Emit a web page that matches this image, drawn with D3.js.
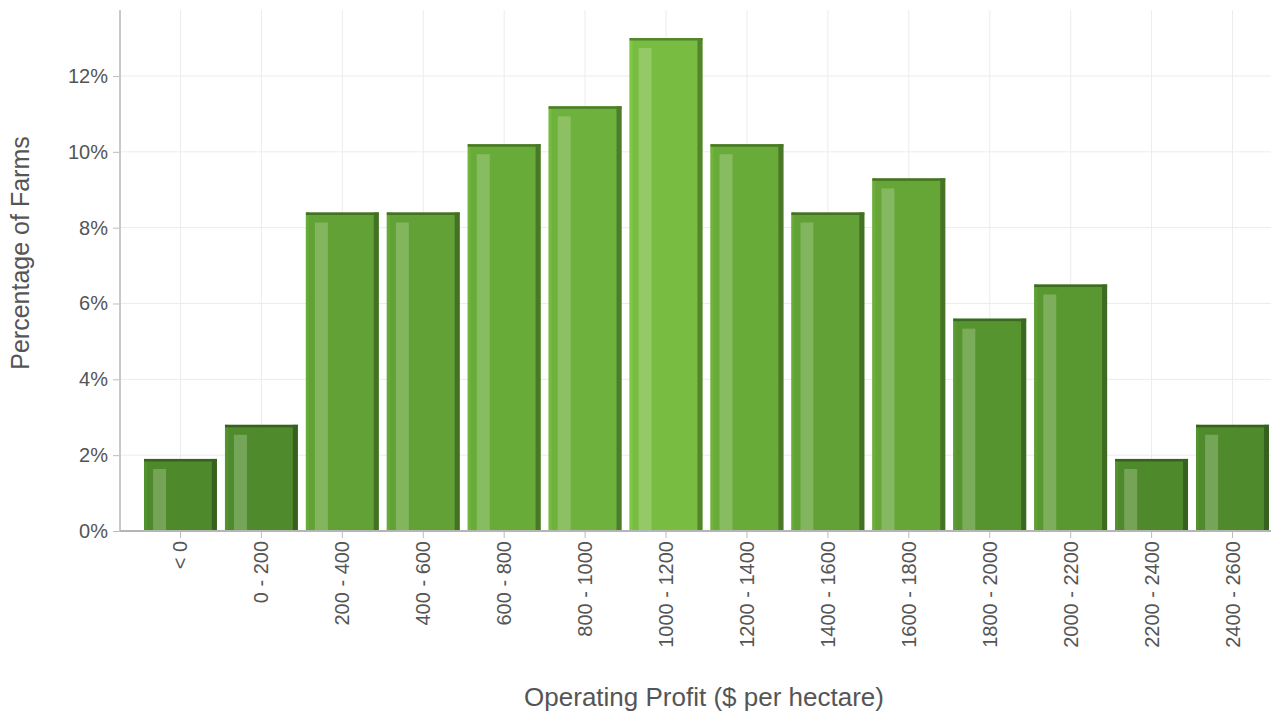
<!DOCTYPE html>
<html>
<head>
<meta charset="utf-8">
<script src="https://cdn.jsdelivr.net/npm/d3@7"></script>
<style>
  html, body { margin: 0; padding: 0; background: #fff; }
  svg { display: block; font-family: "Liberation Sans", Arial, sans-serif; }
</style>
</head>
<body>
<svg id="chart" width="1277" height="717"></svg>
<script>
const categories = ["< 0", "0 - 200", "200 - 400", "400 - 600", "600 - 800", "800 - 1000",
  "1000 - 1200", "1200 - 1400", "1400 - 1600", "1600 - 1800", "1800 - 2000",
  "2000 - 2200", "2200 - 2400", "2400 - 2600"];
const percentages = [1.9, 2.8, 8.4, 8.4, 10.2, 11.2, 13.0, 10.2, 8.4, 9.3, 5.6, 6.5, 1.9, 2.8];
const yTicks = [0, 2, 4, 6, 8, 10, 12];
const xTitle = "Operating Profit ($ per hectare)";
const yTitle = "Percentage of Farms";

const svg = d3.select("#chart");
const axisLeft = 120, plotRight = 1271, plotTop = 10, plotBottom = 531;

const x = d3.scaleBand().domain(categories).range([140, 1273]).paddingInner(0.1).paddingOuter(0.05);
const y = d3.scaleLinear().domain([0, 13.74]).range([plotBottom, plotTop]);

const minV = d3.min(percentages), maxV = d3.max(percentages);
const colorInterp = d3.interpolateRgb("#4e8a2b", "#78bd41");
const baseColor = v => colorInterp(Math.pow((v - minV) / (maxV - minV), 1.5));

// gridlines
const grid = svg.append("g");
grid.selectAll("line.h").data(yTicks).join("line")
  .attr("x1", axisLeft).attr("x2", plotRight)
  .attr("y1", d => y(d)).attr("y2", d => y(d))
  .attr("stroke", "#ececec").attr("stroke-width", 1);
grid.selectAll("line.v").data(categories).join("line")
  .attr("x1", d => x(d) + x.bandwidth() / 2).attr("x2", d => x(d) + x.bandwidth() / 2)
  .attr("y1", plotTop).attr("y2", plotBottom)
  .attr("stroke", "#ececec").attr("stroke-width", 1);

// bars
const bars = svg.append("g").selectAll("g").data(categories).join("g");
bars.each(function(cat, i) {
  const g = d3.select(this);
  const v = percentages[i];
  const bx = x(cat), bw = x.bandwidth();
  const by = y(v), bh = plotBottom - by;
  const c = d3.color(baseColor(v));
  g.append("rect").attr("x", bx).attr("y", by).attr("width", bw).attr("height", bh).attr("fill", c.formatHex());
  // light, slightly washed-out highlight stripe
  g.append("rect").attr("x", bx + 9).attr("y", by + 10).attr("width", 13).attr("height", Math.max(0, bh - 10))
    .attr("fill", d3.interpolateRgb(c.formatHex(), "#d8e8c8")(0.28));
  // subtle light left edge
  g.append("rect").attr("x", bx).attr("y", by).attr("width", 3).attr("height", bh)
    .attr("fill", c.brighter(0.15).formatHex());
  // dark right edge
  g.append("rect").attr("x", bx + bw - 5).attr("y", by).attr("width", 5).attr("height", bh)
    .attr("fill", c.darker(1.0).formatHex());
  // dark top edge
  g.append("rect").attr("x", bx).attr("y", by).attr("width", bw).attr("height", 2.5)
    .attr("fill", c.darker(1.0).formatHex());
});

// y axis
const yAxisG = svg.append("g").attr("transform", `translate(${axisLeft},0)`)
  .call(d3.axisLeft(y).tickValues(yTicks).tickFormat(d => d + "%").tickSize(7).tickPadding(5));
yAxisG.select(".domain").remove();
yAxisG.selectAll(".tick line").attr("stroke", "#bbb");
yAxisG.selectAll(".tick text").attr("fill", "#555").style("font-size", "20px")
  .style("font-family", "'Liberation Sans', Arial, sans-serif");
svg.append("line").attr("x1", axisLeft).attr("x2", axisLeft).attr("y1", plotTop).attr("y2", plotBottom + 1)
  .attr("stroke", "#c8c8c8").attr("stroke-width", 2);

// x axis
const xAxisG = svg.append("g").attr("transform", `translate(0,${plotBottom})`)
  .call(d3.axisBottom(x).tickSize(7).tickPadding(5));
xAxisG.select(".domain").remove();
xAxisG.selectAll(".tick line").attr("stroke", "#bbb");
xAxisG.selectAll(".tick text")
  .attr("fill", "#555").style("font-size", "20px")
  .style("font-family", "'Liberation Sans', Arial, sans-serif")
  .attr("text-anchor", "end").attr("dy", "0.35em")
  .attr("transform", "translate(0,10) rotate(-90)")
  .attr("x", 0).attr("y", 0);
svg.append("line").attr("x1", axisLeft).attr("x2", plotRight).attr("y1", plotBottom).attr("y2", plotBottom)
  .attr("stroke", "#b5b5b5").attr("stroke-width", 2);

// titles
svg.append("text").attr("x", 704).attr("y", 706).attr("text-anchor", "middle")
  .attr("fill", "#555").style("font-size", "26px").text(xTitle);
svg.append("text").attr("transform", "translate(29,253) rotate(-90)").attr("text-anchor", "middle")
  .attr("fill", "#555").style("font-size", "25px").text(yTitle);
</script>
</body>
</html>
